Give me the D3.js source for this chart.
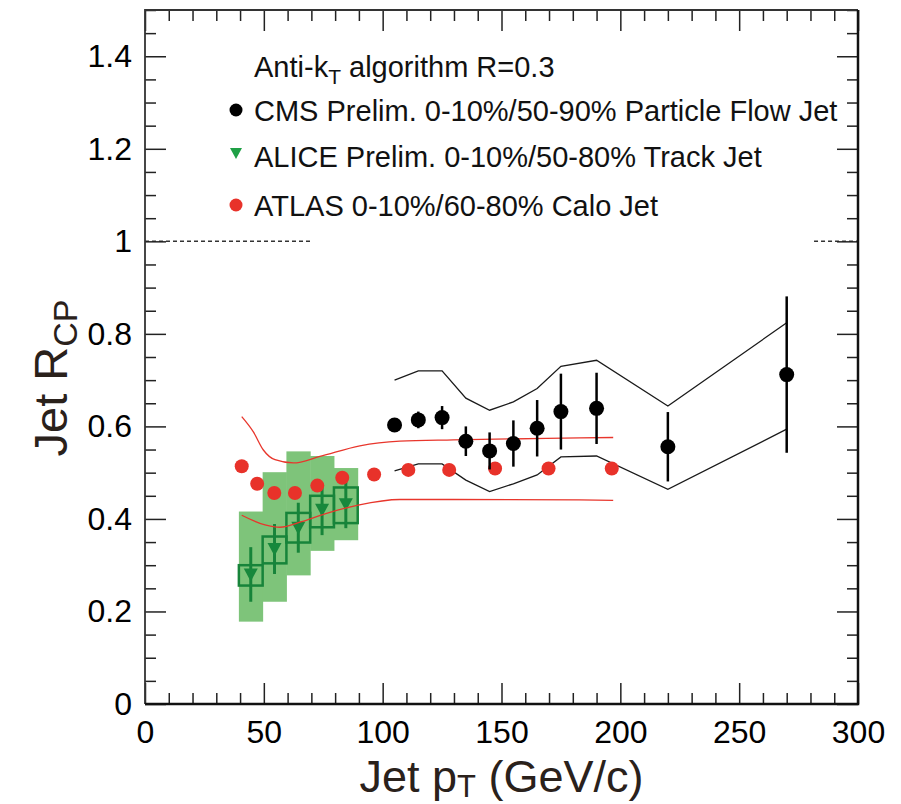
<!DOCTYPE html>
<html>
<head>
<meta charset="utf-8">
<script src="https://cdn.jsdelivr.net/npm/d3@7"></script>
<style>
  html, body { margin: 0; padding: 0; background: #fff; }
  svg { display: block; }
  text { font-family: "Liberation Sans", Arial, Helvetica, sans-serif; }
</style>
</head>
<body>
<svg id="chart" width="901" height="804"></svg>
<script>
// ---------------- DATA ----------------
// CMS Prelim. 0-10%/50-90% Particle Flow Jet
const cmsPt      = [105, 115, 125, 135, 145, 155, 165, 175, 190, 220, 270];
const cmsRcp     = [0.603, 0.614, 0.619, 0.568, 0.547, 0.563, 0.596, 0.632, 0.639, 0.556, 0.712];
const cmsStat    = [0.008, 0.018, 0.025, 0.032, 0.040, 0.050, 0.061, 0.082, 0.077, 0.075, 0.169];
const cmsSysHigh = [0.700, 0.720, 0.720, 0.661, 0.635, 0.653, 0.682, 0.730, 0.743, 0.644, 0.824];
const cmsSysLow  = [0.504, 0.519, 0.519, 0.484, 0.459, 0.476, 0.495, 0.534, 0.536, 0.464, 0.594];

// ALICE Prelim. 0-10%/50-80% Track Jet
const aliceBinLo    = [39.5, 49.5, 59.5, 69.5, 79.5];
const aliceBinHi    = [49.5, 59.5, 69.5, 79.5, 89.5];
const alicePt       = [44.5, 54.5, 64.5, 74.5, 84.5];
const aliceRcp      = [0.280, 0.335, 0.381, 0.420, 0.432];
const aliceStat     = [0.059, 0.054, 0.054, 0.055, 0.052];
const aliceBoxLow   = [0.256, 0.304, 0.349, 0.382, 0.391];
const aliceBoxHigh  = [0.300, 0.362, 0.413, 0.450, 0.468];
const aliceBandLow  = [0.178, 0.221, 0.278, 0.331, 0.354];
const aliceBandHigh = [0.416, 0.501, 0.546, 0.536, 0.510];

// ATLAS 0-10%/60-80% Calo Jet
const atlasPt  = [40.7, 47.2, 54.4, 63.1, 72.5, 83.0, 96.4, 110.8, 128.0, 147.3, 169.8, 196.4];
const atlasRcp = [0.514, 0.476, 0.456, 0.456, 0.472, 0.489, 0.496, 0.506, 0.506, 0.509, 0.509, 0.509];
const atlasSysHighPt = [40.7, 45.6, 49.8, 54.7, 62.4, 73.6, 90.4, 107.2, 129.7, 183.0, 197.0];
const atlasSysHigh   = [0.621, 0.588, 0.549, 0.528, 0.521, 0.535, 0.558, 0.568, 0.571, 0.575, 0.576];
const atlasSysLowPt  = [40.7, 50.5, 56.8, 65.9, 75.7, 89.7, 107.2, 129.7, 183.0, 197.0];
const atlasSysLow    = [0.408, 0.387, 0.382, 0.394, 0.411, 0.430, 0.442, 0.442, 0.441, 0.440];

// reference line at R_CP = 1 (visible pieces)
const refLineValue = 1;
const refLineSegments = [[0, 70.5], [281.5, 300]];

// axes
const xTicks = [0, 50, 100, 150, 200, 250, 300];
const xTickLabels = ["0", "50", "100", "150", "200", "250", "300"];
const xMinorTicks = d3.range(0, 301, 10);
const yTicks = [0, 0.2, 0.4, 0.6, 0.8, 1.0, 1.2, 1.4];
const yTickLabels = ["0", "0.2", "0.4", "0.6", "0.8", "1", "1.2", "1.4"];
const yMinorTicks = d3.range(0, 31).map(i => i * 0.05);

const legendHeader = "Anti-k";
const legendEntries = [
  { name: "CMS Prelim. 0-10%/50-90% Particle Flow Jet", marker: "circle", color: "#000000" },
  { name: "ALICE Prelim. 0-10%/50-80% Track Jet", marker: "triangle", color: "#1fa046" },
  { name: "ATLAS 0-10%/60-80% Calo Jet", marker: "circle", color: "#e8322a" }
];

// ---------------- LAYOUT ----------------
const W = 901, H = 804;
const L = 145, R = 858, T = 10, B = 704;
const svg = d3.select("#chart");
svg.append("rect").attr("width", W).attr("height", H).attr("fill", "#fff");

const x = d3.scaleLinear().domain([0, 300]).range([L, R]);
const y = d3.scaleLinear().domain([0, 1.5]).range([B, T]);

const plot = svg.append("g");

// ALICE outer band (light green)
plot.selectAll("rect.aliceBand").data(alicePt).enter().append("rect")
  .attr("x", (d, i) => x(aliceBinLo[i]))
  .attr("width", (d, i) => x(aliceBinHi[i]) - x(aliceBinLo[i]) + 0.5)
  .attr("y", (d, i) => y(aliceBandHigh[i]))
  .attr("height", (d, i) => y(aliceBandLow[i]) - y(aliceBandHigh[i]))
  .attr("fill", "#7ec47a");

// reference dashed line
plot.selectAll("line.ref").data(refLineSegments).enter().append("line")
  .attr("x1", d => x(d[0])).attr("x2", d => x(d[1]))
  .attr("y1", y(refLineValue)).attr("y2", y(refLineValue))
  .attr("stroke", "#333").attr("stroke-width", 1.5)
  .attr("stroke-dasharray", "4,3");

// CMS systematic band lines
const cmsHighLine = d3.line().x((d, i) => x(cmsPt[i])).y(d => y(d));
plot.append("path").attr("d", cmsHighLine(cmsSysHigh))
  .attr("fill", "none").attr("stroke", "#1a1a1a").attr("stroke-width", 1.3);
plot.append("path").attr("d", cmsHighLine(cmsSysLow))
  .attr("fill", "none").attr("stroke", "#1a1a1a").attr("stroke-width", 1.3);

// ALICE boxes
plot.selectAll("rect.aliceBox").data(alicePt).enter().append("rect")
  .attr("x", (d, i) => x(aliceBinLo[i]))
  .attr("width", (d, i) => x(aliceBinHi[i]) - x(aliceBinLo[i]))
  .attr("y", (d, i) => y(aliceBoxHigh[i]))
  .attr("height", (d, i) => y(aliceBoxLow[i]) - y(aliceBoxHigh[i]))
  .attr("fill", "none").attr("stroke", "#17843a").attr("stroke-width", 2.5);

// ALICE stat bars
plot.selectAll("line.aliceErr").data(alicePt).enter().append("line")
  .attr("x1", d => x(d)).attr("x2", d => x(d))
  .attr("y1", (d, i) => y(aliceRcp[i] - aliceStat[i]))
  .attr("y2", (d, i) => y(aliceRcp[i] + aliceStat[i]))
  .attr("stroke", "#17843a").attr("stroke-width", 3);

// ALICE triangles (down)
const triDown = "M-7,-6L7,-6L0,7Z";
plot.selectAll("path.aliceTri").data(alicePt).enter().append("path")
  .attr("d", triDown)
  .attr("transform", (d, i) => `translate(${x(d)},${y(aliceRcp[i])})`)
  .attr("fill", "#17883c");

// ATLAS systematic curves
const atlasHighLine = d3.line().curve(d3.curveMonotoneX)
  .x((d, i) => x(atlasSysHighPt[i])).y(d => y(d));
const atlasLowLine = d3.line().curve(d3.curveMonotoneX)
  .x((d, i) => x(atlasSysLowPt[i])).y(d => y(d));
plot.append("path").attr("d", atlasHighLine(atlasSysHigh))
  .attr("fill", "none").attr("stroke", "#e8362c").attr("stroke-width", 1.3);
plot.append("path").attr("d", atlasLowLine(atlasSysLow))
  .attr("fill", "none").attr("stroke", "#e8362c").attr("stroke-width", 1.3);

// ATLAS points
plot.selectAll("circle.atlas").data(atlasPt).enter().append("circle")
  .attr("cx", d => x(d)).attr("cy", (d, i) => y(atlasRcp[i]))
  .attr("r", 7).attr("fill", "#e8322a");

// CMS stat bars
plot.selectAll("line.cmsErr").data(cmsPt).enter().append("line")
  .attr("x1", d => x(d)).attr("x2", d => x(d))
  .attr("y1", (d, i) => y(cmsRcp[i] - cmsStat[i]))
  .attr("y2", (d, i) => y(cmsRcp[i] + cmsStat[i]))
  .attr("stroke", "#000").attr("stroke-width", 2.5);

// CMS points
plot.selectAll("circle.cms").data(cmsPt).enter().append("circle")
  .attr("cx", d => x(d)).attr("cy", (d, i) => y(cmsRcp[i]))
  .attr("r", 7.5).attr("fill", "#000");

// ---------------- AXES ----------------
const MAJ = 21, MIN = 11;
function styleAxis(g) {
  g.select(".domain").remove();
  g.selectAll(".tick line").attr("stroke", "#222").attr("stroke-width", 1.5);
  g.selectAll(".tick text").attr("fill", "#000")
    .style("font-family", '"Liberation Sans", Arial, sans-serif')
    .style("font-size", "32px");
}
const xMinorOnly = xMinorTicks.filter(v => xTicks.indexOf(v) < 0);
const yMinorOnly = yMinorTicks.filter(v => !yTicks.some(t => Math.abs(t - v) < 1e-6));

// bottom
svg.append("g").attr("transform", `translate(0,${B})`)
  .call(d3.axisBottom(x).tickValues(xTicks).tickFormat((d, i) => xTickLabels[i]).tickSize(-MAJ).tickPadding(16))
  .call(styleAxis);
svg.append("g").attr("transform", `translate(0,${B})`)
  .call(d3.axisBottom(x).tickValues(xMinorOnly).tickFormat("").tickSize(-MIN))
  .call(styleAxis);
// top
svg.append("g").attr("transform", `translate(0,${T})`)
  .call(d3.axisTop(x).tickValues(xTicks).tickFormat("").tickSize(-MAJ))
  .call(styleAxis);
svg.append("g").attr("transform", `translate(0,${T})`)
  .call(d3.axisTop(x).tickValues(xMinorOnly).tickFormat("").tickSize(-MIN))
  .call(styleAxis);
// left
svg.append("g").attr("transform", `translate(${L},0)`)
  .call(d3.axisLeft(y).tickValues(yTicks).tickFormat((d, i) => yTickLabels[i]).tickSize(-MAJ).tickPadding(13))
  .call(styleAxis);
svg.append("g").attr("transform", `translate(${L},0)`)
  .call(d3.axisLeft(y).tickValues(yMinorOnly).tickFormat("").tickSize(-MIN))
  .call(styleAxis);
// right
svg.append("g").attr("transform", `translate(${R},0)`)
  .call(d3.axisRight(y).tickValues(yTicks).tickFormat("").tickSize(-MAJ))
  .call(styleAxis);
svg.append("g").attr("transform", `translate(${R},0)`)
  .call(d3.axisRight(y).tickValues(yMinorOnly).tickFormat("").tickSize(-MIN))
  .call(styleAxis);

// frame
svg.append("path").attr("d", `M${L},${B}L${L},${T}L${R},${T}`)
  .attr("fill", "none").attr("stroke", "#333").attr("stroke-width", 1.8);
svg.append("path").attr("d", `M${L},${B}L${R},${B}L${R},${T}`)
  .attr("fill", "none").attr("stroke", "#111").attr("stroke-width", 2.5);

// axis titles
const xt = svg.append("text").attr("x", (L + R) / 2).attr("y", 792)
  .attr("text-anchor", "middle").attr("fill", "#2a211b").style("font-size", "45px");
xt.append("tspan").text("Jet p");
xt.append("tspan").attr("dy", 5).style("font-size", "31px").text("T");
xt.append("tspan").attr("dy", -5).text(" (GeV/c)");

const yt = svg.append("text").attr("transform", "translate(67,378) rotate(-90)")
  .attr("text-anchor", "middle").attr("fill", "#2a211b").style("font-size", "47px");
yt.append("tspan").text("Jet R");
yt.append("tspan").attr("dy", 10).style("font-size", "34px").text("CP");

// ---------------- LEGEND ----------------
const lg = svg.append("g");
const hdr = lg.append("text").attr("x", 254).attr("y", 77).attr("fill", "#111").style("font-size", "29px");
hdr.append("tspan").text(legendHeader);
hdr.append("tspan").attr("dy", 7).style("font-size", "21px").text("T");
hdr.append("tspan").attr("dy", -7).text(" algorithm R=0.3");

const rowY = [110, 156, 205];
legendEntries.forEach((e, i) => {
  if (e.marker === "circle") {
    lg.append("circle").attr("cx", 236).attr("cy", rowY[i]).attr("r", 6.5).attr("fill", e.color);
  } else {
    lg.append("path").attr("d", "M-6,-5L6,-5L0,6Z")
      .attr("transform", `translate(236,${rowY[i] - 3})`).attr("fill", e.color);
  }
  lg.append("text").attr("x", 254).attr("y", rowY[i] + 11).attr("fill", "#111")
    .style("font-size", "29px").text(e.name);
});
</script>
</body>
</html>
